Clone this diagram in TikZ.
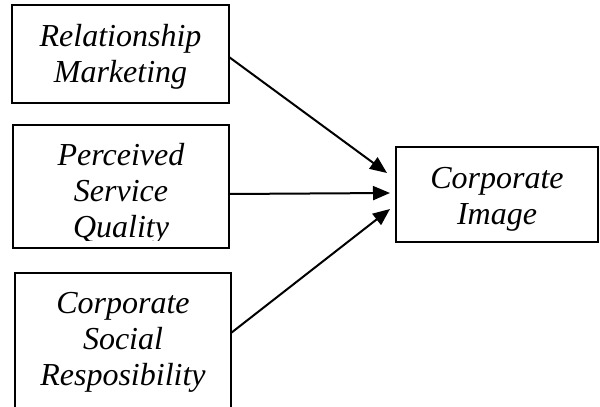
\documentclass[tikz,border=0pt]{standalone}
\usepackage{fontspec}
\setmainfont{Liberation Serif}
\usetikzlibrary{arrows.meta}
\tikzset{box/.style={draw,line width=2.6pt,outer sep=0pt,inner sep=0pt,align=center,font=\itshape\fontsize{32}{36}\selectfont},
arr/.style={-{Triangle[length=17pt,width=14pt]},line width=2pt}}

\begin{document}
\begin{tikzpicture}[x=1pt,y=-1pt]
\useasboundingbox (0,0) rectangle (600,407);
\clip (0,0) rectangle (600,407);
% three factors on the left
\node[box,text width=217pt,text height=41pt,text depth=57pt] (rm) at (120.5,54){Relationship\\Marketing};
\begin{scope}
\clip (0,0) rectangle (600,240);
\node[box,draw=none,text width=216pt,text height=40pt,text depth=83pt] (psq) at (121,186.5){Perceived\\Service\\Quality};
\end{scope}
\draw[line width=2.6pt] (psq.north west) rectangle (psq.south east);
\node[box,text width=216pt,text height=40pt,text depth=100pt] (csr) at (123,343){Corporate\\Social\\Resposibility};
% outcome
\node[box,text width=202pt,text height=41pt,text depth=54pt] (ci) at (497,194.5){Corporate\\Image};
\draw[arr] ([yshift=-3pt]rm.east)--([xshift=-9pt,yshift=21.5pt]ci.west);
\draw[arr] ([yshift=-7.5pt]psq.east)--([xshift=-6pt,yshift=1.5pt]ci.west);
\draw[arr] ([yshift=10pt]csr.east)--([xshift=-6pt,yshift=-14.5pt]ci.west);
\end{tikzpicture}
\end{document}
